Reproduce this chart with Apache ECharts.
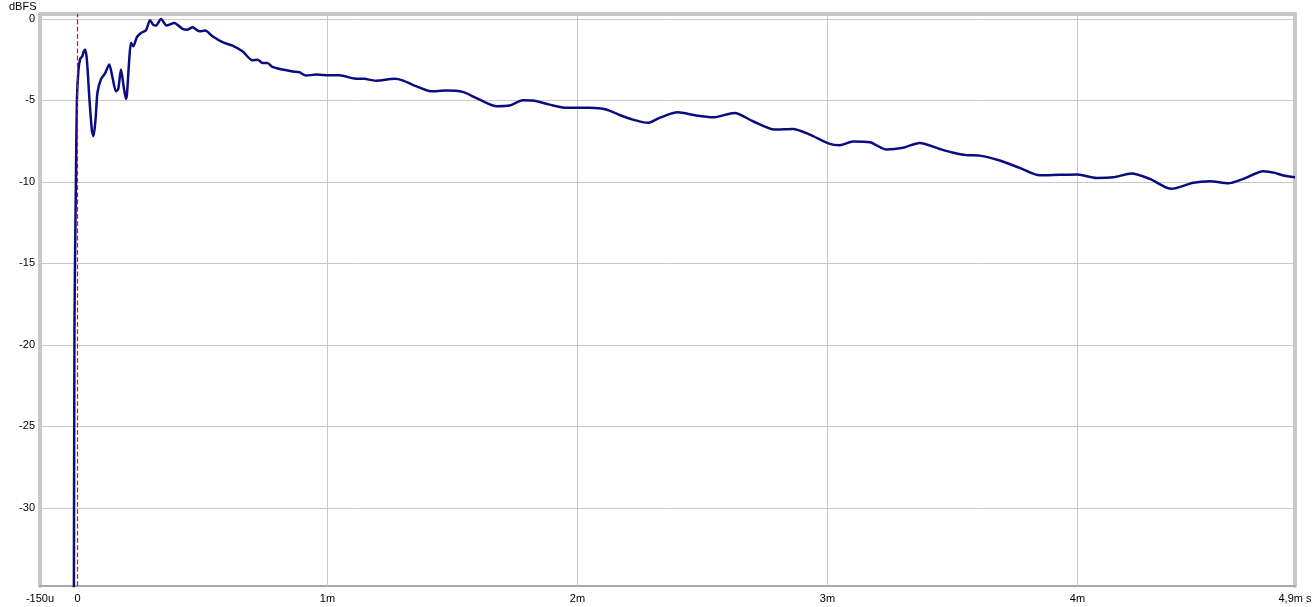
<!DOCTYPE html>
<html>
<head>
  <meta charset="UTF-8">
  <title>Impulse</title>
  <script src="https://cdn.jsdelivr.net/npm/echarts@6/dist/echarts.min.js"></script>
  <style>
    html, body { margin: 0; padding: 0; background: #fff; }
    #main { width: 1315px; height: 607px; }
  </style>
</head>
<body>
<div id="main"></div>
<script type="text/javascript">
  // time in ms, level in dBFS
  var times = [
    -0.016, -0.0144, -0.012, -0.0064, -0.0024, 0.004, 0.011, 0.019, 0.025, 0.031,
    0.038, 0.048, 0.058, 0.064, 0.072, 0.08, 0.094, 0.11, 0.127, 0.14,
    0.154, 0.163, 0.174, 0.185, 0.194, 0.198, 0.207, 0.214, 0.223, 0.238,
    0.254, 0.274, 0.29, 0.302, 0.314, 0.334, 0.356, 0.387, 0.42, 0.44,
    0.46, 0.487, 0.511, 0.54, 0.58, 0.62, 0.66, 0.70, 0.72, 0.74,
    0.76, 0.78, 0.82, 0.86, 0.887, 0.914, 0.954, 1.007, 1.047, 1.107,
    1.147, 1.194, 1.268, 1.30, 1.354, 1.414, 1.474, 1.541, 1.594, 1.675,
    1.728, 1.781, 1.821, 1.888, 1.955, 2.008, 2.048, 2.115, 2.168, 2.221,
    2.281, 2.328, 2.401, 2.475, 2.542, 2.628, 2.702, 2.788, 2.862, 2.929,
    3.009, 3.049, 3.102, 3.169, 3.236, 3.302, 3.369, 3.449, 3.50, 3.556,
    3.609, 3.689, 3.769, 3.849, 3.929, 4.0, 4.076, 4.143, 4.216, 4.289,
    4.376, 4.463, 4.529, 4.603, 4.663, 4.743, 4.79, 4.823, 4.87
  ];
  var levels = [
    -40, -34.8, -18.4, -10, -5, -3.1, -2.45, -2.3, -2.0, -1.9,
    -2.6, -5.0, -6.9, -7.2, -6.2, -4.5, -3.7, -3.35, -2.8, -3.6,
    -4.44, -4.3, -3.1, -4.2, -4.9, -4.6, -2.5, -1.47, -1.68, -1.1,
    -0.86, -0.7, -0.08, -0.35, -0.41, 0, -0.41, -0.25, -0.61, -0.66,
    -0.51, -0.76, -0.72, -1.07, -1.43, -1.64, -1.99, -2.54, -2.5, -2.7,
    -2.7, -2.95, -3.11, -3.23, -3.27, -3.48, -3.42, -3.46, -3.46, -3.66,
    -3.68, -3.79, -3.68, -3.77, -4.13, -4.44, -4.40, -4.48, -4.85, -5.36,
    -5.32, -4.99, -5.01, -5.26, -5.46, -5.46, -5.46, -5.56, -5.9, -6.18,
    -6.38, -6.07, -5.73, -5.93, -6.04, -5.77, -6.28, -6.79, -6.75, -7.10,
    -7.67, -7.75, -7.53, -7.57, -8.02, -7.91, -7.61, -7.98, -8.2, -8.36,
    -8.39, -8.69, -9.14, -9.6, -9.57, -9.55, -9.76, -9.72, -9.49, -9.82,
    -10.43, -10.06, -9.96, -10.09, -9.82, -9.35, -9.45, -9.61, -9.72
  ];

  var xMin = -0.15, xMax = 4.87;
  var yMin = -34.8, yMax = 0.3;
  var xTicks = [-0.15, 0, 1, 2, 3, 4, 4.87];
  var xTickLabels = ['-150u', '0', '1m', '2m', '3m', '4m', '4,9m s'];
  var xGrid = [1, 2, 3, 4];
  var yTicks = [0, -5, -10, -15, -20, -25, -30];
  var markerTime = 0;

  var points = [];
  for (var i = 0; i < times.length; i++) {
    points.push([times[i], levels[i]]);
  }

  var gridLines = [];
  for (var j = 0; j < xGrid.length; j++) gridLines.push({ xAxis: xGrid[j] });
  for (var k = 0; k < yTicks.length; k++) gridLines.push({ yAxis: yTicks[k] });

  var myChart = echarts.init(document.getElementById('main'));
  myChart.setOption({
    animation: false,
    textStyle: { fontFamily: 'Liberation Sans, Arial, sans-serif' },
    title: {
      text: 'dBFS', left: 9, top: 1, padding: 0,
      textStyle: { fontSize: 11, fontWeight: 'normal', color: '#000' }
    },
    grid: { left: 40, top: 14, right: 20, bottom: 21, containLabel: false },
    xAxis: [{
      type: 'value', min: xMin, max: xMax,
      axisLine: { show: true, onZero: false, lineStyle: { color: '#a8a8a8', width: 2 } },
      axisTick: { show: false },
      splitLine: { show: false },
      axisLabel: {
        customValues: xTicks, color: '#000', fontSize: 11, margin: 7,
        showMinLabel: true, showMaxLabel: true,
        formatter: function (v) {
          for (var n = 0; n < xTicks.length; n++) {
            if (Math.abs(xTicks[n] - v) < 1e-6) return xTickLabels[n];
          }
          return '';
        }
      }
    }, {
      type: 'value', min: xMin, max: xMax, position: 'top',
      axisLine: { show: true, onZero: false, lineStyle: { color: '#c8c8c8', width: 4 } },
      axisTick: { show: false }, axisLabel: { show: false }, splitLine: { show: false }
    }],
    yAxis: [{
      type: 'value', min: yMin, max: yMax,
      axisLine: { show: true, onZero: false, lineStyle: { color: '#c8c8c8', width: 4 } },
      axisTick: { show: false },
      splitLine: { show: false },
      axisLabel: {
        customValues: yTicks, color: '#000', fontSize: 11, margin: 5,
        formatter: function (v) { return String(v); }
      }
    }, {
      type: 'value', min: yMin, max: yMax, position: 'right',
      axisLine: { show: true, onZero: false, lineStyle: { color: '#c8c8c8', width: 4 } },
      axisTick: { show: false }, axisLabel: { show: false }, splitLine: { show: false }
    }],
    series: [{
      type: 'line',
      data: [],
      silent: true,
      markLine: {
        silent: true, symbol: 'none', animation: false,
        label: { show: false },
        lineStyle: { color: '#c8c8c8', width: 1, type: 'solid' },
        data: gridLines
      }
    }, {
      name: 'marker',
      type: 'line',
      data: [[markerTime, yMin], [markerTime, yMax]],
      silent: true,
      showSymbol: false,
      color: '#ff0000',
      itemStyle: { color: '#ff0000' },
      lineStyle: { color: '#ff0000', width: 1.2, type: 'dashed', dashOffset: 0 },
      z: 6
    }, {
      name: 'level',
      type: 'line',
      data: points,
      showSymbol: false,
      smooth: 0.25,
      clip: true,
      color: '#0c0c80',
      lineStyle: { color: '#0c0c80', width: 2.5 },
      z: 5
    }]
  });
</script>
</body>
</html>
